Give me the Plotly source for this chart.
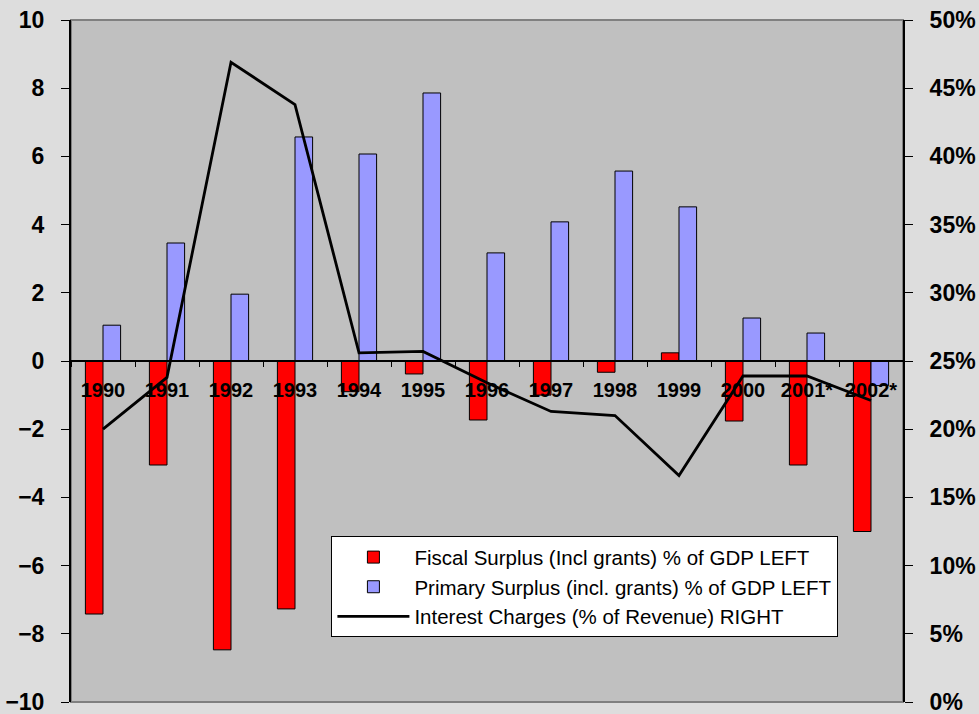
import plotly.graph_objects as go

years = ["1990", "1991", "1992", "1993", "1994", "1995", "1996", "1997",
         "1998", "1999", "2000", "2001*", "2002*"]
fiscal = [-7.42, -3.05, -8.47, -7.27, -0.9, -0.38, -1.73, -1.0,
          -0.33, 0.24, -1.76, -3.05, -5.0]
primary = [1.05, 3.46, 1.96, 6.57, 6.07, 7.86, 3.17, 4.08,
           5.57, 4.52, 1.26, 0.82, -0.72]
interest = [20.0, 23.8, 46.9, 43.8, 25.6, 25.7, 23.4, 21.3,
            21.0, 16.6, 23.9, 23.9, 22.1]

FONT = "Liberation Sans, Arial, sans-serif"

fig = go.Figure()
fig.add_trace(go.Bar(x=years, y=fiscal, name="Fiscal Surplus (Incl grants) % of GDP LEFT",
                     marker=dict(color="#ff0000", line=dict(color="black", width=1))))
fig.add_trace(go.Bar(x=years, y=primary, name="Primary Surplus (incl. grants) % of GDP LEFT",
                     marker=dict(color="#9999ff", line=dict(color="black", width=1))))
fig.add_trace(go.Scatter(x=years, y=interest, name="Interest Charges (% of Revenue) RIGHT",
                         yaxis="y2", mode="lines", line=dict(color="black", width=2.8)))

fig.update_layout(
    width=979, height=714,
    margin=dict(l=71, r=76, t=20, b=12),
    paper_bgcolor="#dddddd",
    plot_bgcolor="#c0c0c0",
    barmode="group", bargap=0.45, bargroupgap=0,
    font=dict(family=FONT, color="black"),
    xaxis=dict(type="category", anchor="free", position=0.5,
               showline=True, linecolor="black", linewidth=2,
               ticks="outside", ticklen=5, tickcolor="black", tickwidth=1,
               tickson="boundaries", showgrid=False, zeroline=False,
               tickfont=dict(size=20, family=FONT, weight="bold"),
               ticklabelstandoff=11, automargin=False),
    xaxis2=dict(overlaying="x", anchor="free", position=0.5, range=[-0.5, 12.5],
                showline=False, ticks="inside", ticklen=5, tickcolor="black",
                tick0=0.5, dtick=1, showticklabels=False, showgrid=False,
                zeroline=False),
    yaxis=dict(range=[-10, 10], dtick=2, showgrid=False, zeroline=False,
               showline=True, linecolor="black", linewidth=2,
               ticks="outside", ticklen=8, tickcolor="black", tickwidth=1,
               tickfont=dict(size=23, family=FONT, weight="bold"),
               ticklabelstandoff=12, automargin=False, ticklabeloverflow="allow"),
    yaxis3=dict(overlaying="y", range=[-10, 10], dtick=2, showgrid=False,
                zeroline=False, ticks="inside", ticklen=8, tickcolor="black",
                showticklabels=False),
    yaxis2=dict(overlaying="y", side="right", range=[0, 50], dtick=5,
                ticksuffix="%", showgrid=False, zeroline=False,
                showline=True, linecolor="black", linewidth=2,
                ticks="outside", ticklen=8, tickcolor="black", tickwidth=1,
                tickfont=dict(size=23, family=FONT, weight="bold"),
                ticklabelstandoff=12, automargin=False, ticklabeloverflow="allow"),
    yaxis4=dict(overlaying="y", side="right", anchor="x", range=[0, 50], dtick=5,
                showgrid=False, zeroline=False, ticks="inside", ticklen=8,
                tickcolor="black", showticklabels=False),
    legend=dict(x=0.313, y=0.243, xanchor="left", yanchor="top",
                bgcolor="white", bordercolor="black", borderwidth=1,
                font=dict(size=20.5, family=FONT), tracegroupgap=0,
                itemwidth=72),
    showlegend=True,
    shapes=[dict(type="rect", xref="paper", yref="paper", x0=0, x1=1, y0=0, y1=1,
                 line=dict(color="#808080", width=2), layer="below")],
)

fig.write_html("out.html")
